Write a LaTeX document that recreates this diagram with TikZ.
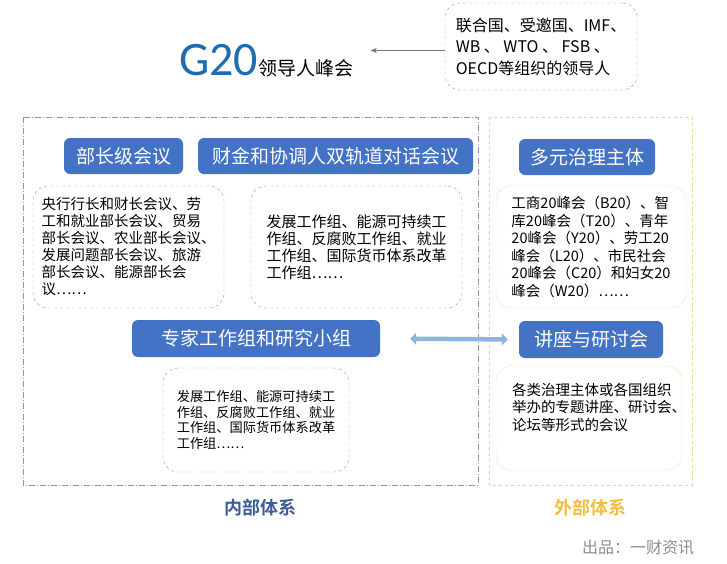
\documentclass[tikz,border=0pt]{standalone}
\usepackage{fontspec}
\setmainfont{Noto Sans CJK SC}[BoldFont={Noto Sans CJK SC Bold}]
\newfontfamily\gfont{Carlito}
\usepackage{tikz}
\usetikzlibrary{arrows.meta}

\definecolor{hdrblue}{HTML}{4472C4}
\definecolor{gblue}{HTML}{1F6CB0}
\definecolor{boxgray}{HTML}{8497B0}
\definecolor{boxyellow}{HTML}{EDE2B4}
\definecolor{framegray}{HTML}{8A98AC}
\definecolor{frameyellow}{HTML}{F3D88C}
\definecolor{innerblue}{HTML}{3D5C9C}
\definecolor{outeryellow}{HTML}{F2BE3C}
\definecolor{arrowblue}{HTML}{8FB4E0}

\begin{document}
\begin{tikzpicture}[x=1pt, y=-1pt,
    hdr/.style={fill=hdrblue, rounded corners=6pt, text=white, minimum height=36pt,
      font=\fontsize{19}{19}\selectfont},
    infobox/.style={draw=boxgray, dashed, rounded corners=15pt, align=left,
      font=\fontsize{14.5}{17}\selectfont},
    extbox/.style={draw=boxyellow, rounded corners=15pt, align=left,
      font=\fontsize{14.5}{17.5}\selectfont}]
  \useasboundingbox (0,0) rectangle (727,563);

  % frames
  \draw[framegray, dash pattern=on 6pt off 2pt on 1pt off 2pt] (23,117) rectangle (478,485);
  \draw[frameyellow, dashed] (489,117) rectangle (692,485);

  % title
  \node[inner sep=0, anchor=base west, text=gblue, font=\gfont\fontsize{48}{48}\selectfont] (g20) at (179,75) {G20};
  \node[inner sep=0, anchor=base west, font=\fontsize{19}{19}\selectfont] (summit) at (g20.base east) {领导人峰会};
  \node[infobox, minimum width=192pt, minimum height=87pt, font=\fontsize{16}{21.5}\selectfont] (leaders) at (541,46.5)
    {联合国、受邀国、IMF、\\WB 、 WTO 、 FSB 、\\OECD等组织的领导人};
  \draw[boxgray!80!black, -{Stealth[length=6pt,width=5pt]}, shorten >=17pt] ([yshift=-4pt]leaders.west) -- ([yshift=-4pt]leaders.west -| summit.east);

  % internal system
  \node[hdr, minimum width=119pt] (minister) at (123.5,156) {部长级会议};
  \node[hdr, minimum width=275pt] (finance) at (335.5,156) {财金和协调人双轨道对话会议};
  \node[infobox, minimum width=191pt, minimum height=122pt] (ministerbox) at (128.5,247)
    {央行行长和财长会议、劳\\工和就业部长会议、贸易\\部长会议、农业部长会议、\\发展问题部长会议、旅游\\部长会议、能源部长会\\议……};
  \node[infobox, minimum width=211pt, minimum height=122pt, font=\fontsize{15}{17}\selectfont] (financebox) at (356.5,247)
    {发展工作组、能源可持续工\\作组、反腐败工作组、就业\\工作组、国际货币体系改革\\工作组……};
  \node[hdr, minimum width=248pt, minimum height=37pt] (expert) at (256,338.5) {专家工作组和研究小组};
  \node[infobox, minimum width=186pt, minimum height=104pt, font=\fontsize{13.2}{15.5}\selectfont] (expertbox) at (256,420)
    {发展工作组、能源可持续工\\作组、反腐败工作组、就业\\工作组、国际货币体系改革\\工作组……};

  % external system
  \node[hdr, minimum width=136pt] (plural) at (587,157) {多元治理主体};
  \node[extbox, minimum width=190pt, minimum height=122pt] (pluralbox) at (591,247)
    {工商20峰会（B20）、智\\库20峰会（T20）、青年\\20峰会（Y20）、劳工20\\峰会（L20）、市民社会\\20峰会（C20）和妇女20\\峰会（W20）……};
  \node[hdr, minimum width=144pt, minimum height=37pt] (lecture) at (591,339.5) {讲座与研讨会};
  \node[extbox, minimum width=186pt, minimum height=104pt] (lecturebox) at (589,418) {};
  \node[inner sep=0, anchor=north west, align=left, font=\fontsize{14.5}{17.5}\selectfont] (lecturetxt)
    at ([xshift=16pt,yshift=-17pt]lecturebox.north west)
    {各类治理主体或各国组织\\举办的专题讲座、研讨会、\\论坛等形式的会议};

  \draw[arrowblue, line width=4.5pt, {Triangle[length=6pt,width=12pt]}-{Triangle[length=6pt,width=12pt]},
    shorten <=30pt, shorten >=11pt] (expert.east) -- (lecture.west);

  % labels
  \node[text=innerblue, font=\bfseries\fontsize{18}{18}\selectfont] (inner) at (260,508) {内部体系};
  \node[text=outeryellow, font=\bfseries\fontsize{18}{18}\selectfont] (outer) at (590,508) {外部体系};
  \node[text=black!45, font=\fontsize{16}{16}\selectfont] (source) at (638,548) {出品：一财资讯};
\end{tikzpicture}
\end{document}
